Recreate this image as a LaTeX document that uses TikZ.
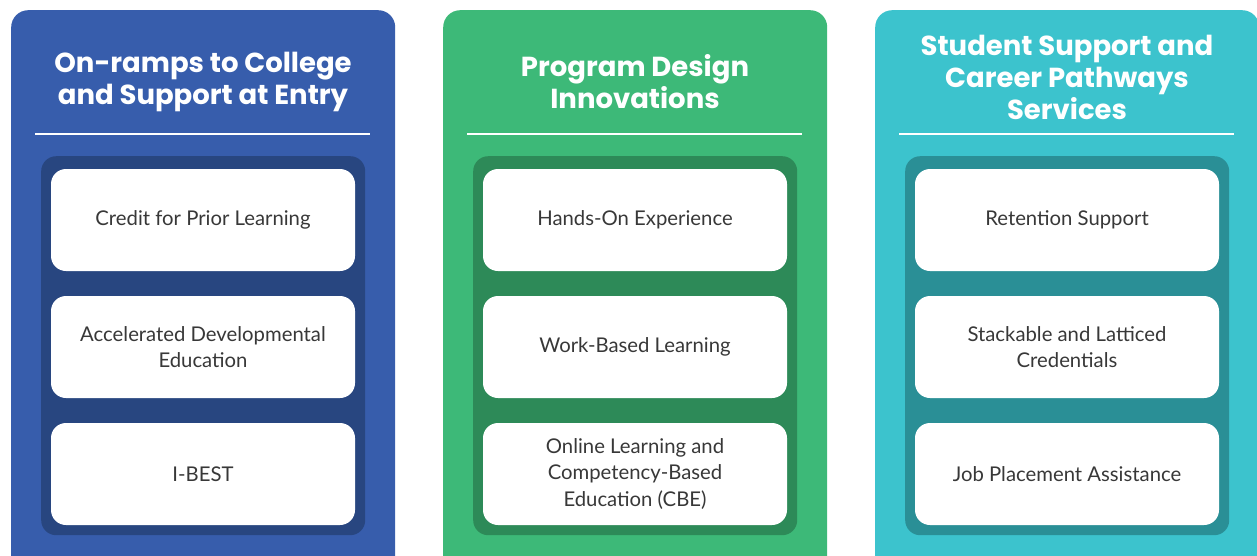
\documentclass[tikz,border=0pt]{standalone}
\usepackage{fontspec}
\setmainfont{Lato}
\newfontfamily\headfont{Poppins}
\usepackage{xcolor}
\usepackage{tikz}
\definecolor{rampblue}{HTML}{375DAC}
\definecolor{rampbluedk}{HTML}{284680}
\definecolor{designgreen}{HTML}{3DB978}
\definecolor{designgreendk}{HTML}{2D8A58}
\definecolor{supportteal}{HTML}{3CC3CD}
\definecolor{supporttealdk}{HTML}{2A8F96}
\definecolor{itemtext}{HTML}{383838}
\tikzset{panel/.style={anchor=north west, rounded corners=17pt, minimum width=384pt, minimum height=580pt, inner sep=0pt},
inset/.style={anchor=north west, rounded corners=15pt, minimum width=324pt, minimum height=379pt, inner sep=0pt},
item/.style={fill=white, rounded corners=15pt, minimum width=304pt, minimum height=102pt, inner sep=0pt, align=center, text=itemtext, font=\fontsize{20.3}{26.5}\selectfont},
heading/.style={text=white, align=center, font=\headfont\bfseries\fontsize{27.5}{32}\selectfont}}

\begin{document}
\begin{tikzpicture}[x=1pt, y=-1pt]
\useasboundingbox (0,0) rectangle (1257,555);
\clip (0,0) rectangle (1257,555);
%first column
\node[panel, fill=rampblue] (p1) at (11,10) {};
\node[heading] (h1) at (203,82) {On-ramps to College\\and Support at Entry};
\draw[white, line width=2pt] (35,134) -- (370,134);
\node[inset, fill=rampbluedk] (in1) at (41,156) {};
\node[item] (credit) at (203,220) {Credit for Prior Learning};
\node[item] (accel) at (203,347) {Accelerated Developmental\\Education};
\node[item] (ibest) at (203,474) {I-BEST};
%second column
\node[panel, fill=designgreen] (p2) at (443,10) {};
\node[heading] (h2) at (635,82) {Program Design\\Innovations};
\draw[white, line width=2pt] (467,134) -- (802,134);
\node[inset, fill=designgreendk] (in2) at (473,156) {};
\node[item] (hands) at (635,220) {Hands-On Experience};
\node[item] (work) at (635,347) {Work-Based Learning};
\node[item] (online) at (635,474) {Online Learning and\\Competency-Based\\Education (CBE)};
%third column
\node[panel, fill=supportteal] (p3) at (875,10) {};
\node[heading] (h3) at (1067,77) {Student Support and\\Career Pathways\\Services};
\draw[white, line width=2pt] (899,134) -- (1234,134);
\node[inset, fill=supporttealdk] (in3) at (905,156) {};
\node[item] (retain) at (1067,220) {Retention Support};
\node[item] (stack) at (1067,347) {Stackable and Latticed\\Credentials};
\node[item] (job) at (1067,474) {Job Placement Assistance};
\end{tikzpicture}
\end{document}
